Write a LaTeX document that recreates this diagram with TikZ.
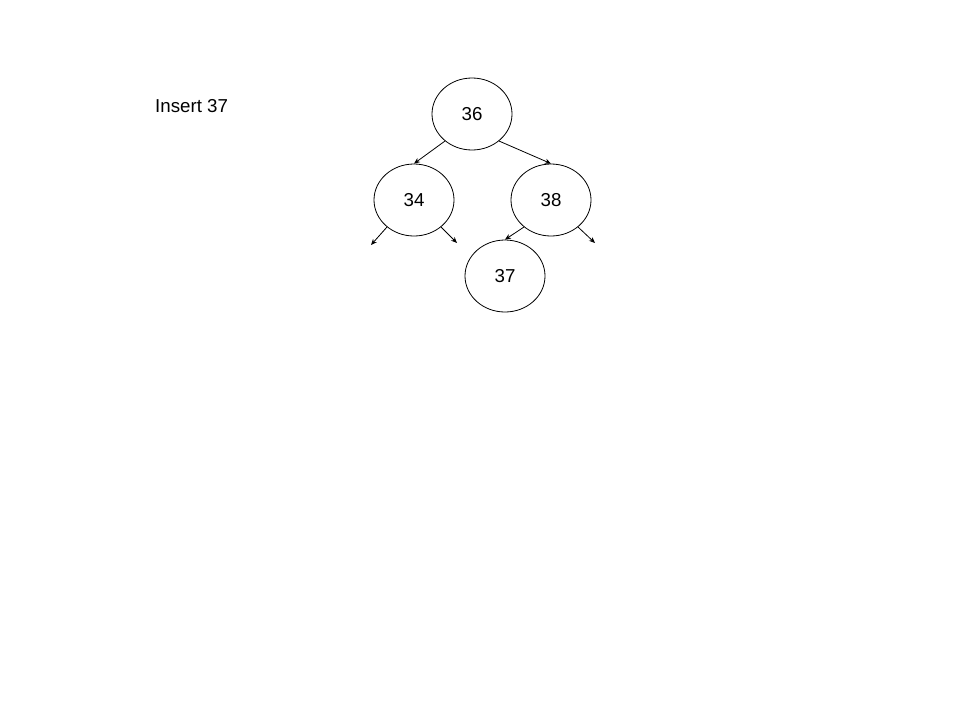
\documentclass[tikz,border=0pt]{standalone}
\usepackage{fontspec}
\setmainfont{Liberation Sans}
\usetikzlibrary{arrows.meta,shapes.geometric}
\begin{document}
\begin{tikzpicture}[x=1pt,y=-1pt,
  bnode/.style={draw,ellipse,minimum width=80pt,minimum height=72pt,inner sep=0pt,line width=0.8pt,font=\fontsize{18.7}{20}\selectfont},
  conn/.style={line width=0.8pt,-{Stealth[length=6pt,width=5pt]}}]
\useasboundingbox (0,0) rectangle (960,720);
\node[anchor=west,inner sep=0pt,font=\fontsize{18.7}{20}\selectfont] (lbl) at (155,106) {Insert 37};
\node[bnode] (n36) at (472,114) {36};
\node[bnode] (n34) at (414,200) {34};
\node[bnode] (n38) at (551,200) {38};
\node[bnode] (n37) at (505,276) {37};
\coordinate (l34) at (371,245);
\coordinate (r34) at (457,243);
\coordinate (r38) at (595,243);
\draw[conn] (n36.-135) -- (n34.north);
\draw[conn] (n36.-45) -- (n38.north);
\draw[conn] (n34.-135) -- (l34);
\draw[conn] (n34.-45) -- (r34);
\draw[conn] (n38.-135) -- (n37.north);
\draw[conn] (n38.-45) -- (r38);
\end{tikzpicture}
\end{document}
